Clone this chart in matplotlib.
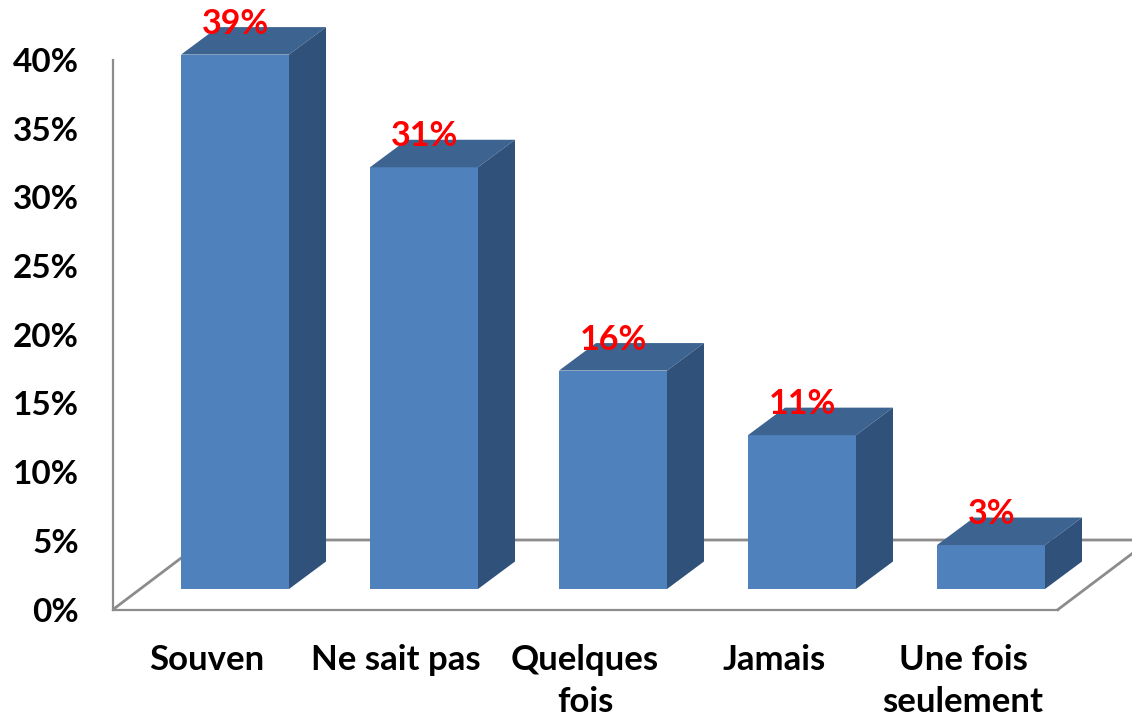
import numpy as np
import matplotlib
matplotlib.use('Agg')
from matplotlib import pyplot as plt
from matplotlib.patches import Polygon

categories = ['Souven', 'Ne sait pas', 'Quelques\nfois', 'Jamais', 'Une fois\nseulement']
values = [38.9, 30.7, 15.9, 11.2, 3.2]
labels = ['39%', '31%', '16%', '11%', '3%']
yticks = [0, 5, 10, 15, 20, 25, 30, 35, 40]

W, H = 1132, 718
GRAY = '#8c8c8c'
FRONT = '#4f81bd'
TOP = '#3d6390'
SIDE = '#30527a'

plt.rcParams['font.family'] = ['Lato', 'DejaVu Sans']
plt.rcParams['font.weight'] = 'bold'

fig = plt.figure(figsize=(W/100, H/100), dpi=100)
# axes box runs from the y axis line to the right edge, 0% to 40%
ax = fig.add_axes([113/W, 1 - 609.5/H, (W - 113)/W, (609.5 - 60)/H])

# px per unit
sx = 189.0
sy = (609.5 - 60)/40
ax.set_xlim((113 - 235)/sx, (W - 235)/sx)
ax.set_ylim(0, 40)

base = (609.5 - 589)/sy
bw = 108/sx
dx = 37/sx
dy = 27.5/sy

# floor
x0, x1 = ax.get_xlim()
floor_d = 69.5/sy
back_x = x0 + 92/sx
ax.plot([x0, back_x, x1], [0, floor_d, floor_d], color=GRAY, lw=2, zorder=1, solid_joinstyle='miter')
rx = (1058 - 235)/sx
ax.plot([rx, rx + 74/sx], [0, 55.8/sy], color=GRAY, lw=2, zorder=1, clip_on=False)

x = np.arange(len(values))
ax.bar(x, values, width=bw, bottom=base, color=FRONT, zorder=3, clip_on=False)
for i, v in enumerate(values):
    l = i - bw/2
    r = i + bw/2
    t = base + v
    ax.add_patch(Polygon([(l, t), (r, t), (r + dx, t + dy), (l + dx, t + dy)], closed=True,
                         fc=TOP, ec='none', zorder=3, clip_on=False))
    ax.add_patch(Polygon([(r, base), (r, t), (r + dx, t + dy), (r + dx, base + dy)], closed=True,
                         fc=SIDE, ec='none', zorder=3, clip_on=False))
    ax.annotate(labels[i], (i, t), xytext=(0.5, 31*0.72), textcoords='offset points',
                ha='center', va='center', color='#ff0000', fontsize=24.5, fontweight='bold',
                zorder=5, annotation_clip=False)

for s in ['top', 'right']:
    ax.spines[s].set_visible(False)
ax.spines['left'].set_color(GRAY)
ax.spines['left'].set_linewidth(1.6)
ax.spines['bottom'].set_color(GRAY)
ax.spines['bottom'].set_linewidth(1.6)
ax.spines['bottom'].set_bounds(x0, rx)

ax.set_yticks(yticks)
ax.set_yticklabels(['%d%%' % t for t in yticks])
ax.set_xticks(x - 28/sx)
ax.set_xticklabels(categories, linespacing=1.42)
ax.tick_params(axis='y', length=0, pad=24.5, labelsize=24, labelcolor='black')
ax.tick_params(axis='x', length=0, pad=24.5, labelsize=25, labelcolor='black')

fig.savefig('out.png', dpi=100)
